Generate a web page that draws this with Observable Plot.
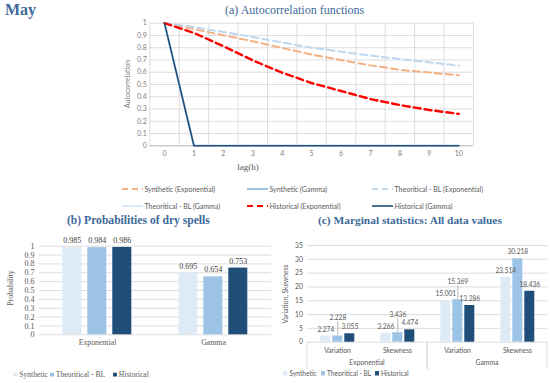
<!DOCTYPE html>
<html>
<head>
<meta charset="utf-8">
<script src="https://cdn.jsdelivr.net/npm/d3@7"></script>
<script src="https://cdn.jsdelivr.net/npm/@observablehq/plot@0.6"></script>
<style>
  html, body { margin: 0; padding: 0; background: #fff; }
  #root { position: relative; width: 550px; height: 383px; overflow: hidden; background: #fff; }
  .abs { position: absolute; white-space: nowrap; }
  .serif { font-family: "Liberation Serif", "DejaVu Serif", serif; }
  .sans { font-family: Lato, "Liberation Sans", sans-serif; }
  .title { color: #3d6a9a; }
  .leg { display: flex; align-items: center; color: #595959; }
  .leg svg { display: block; }
</style>
</head>
<body>
<div id="root"></div>
<script>
// ---------- DATA ----------
// (a) Autocorrelation functions
const lags = [0, 1, 2, 3, 4, 5, 6, 7, 8, 9, 10];
const synthExp   = [1, 0.952, 0.902, 0.852, 0.798, 0.744, 0.700, 0.656, 0.620, 0.597, 0.575];
const synthGamma = [1, 0, 0, 0, 0, 0, 0, 0, 0, 0, 0];
const theoExp    = [1, 0.968, 0.928, 0.888, 0.843, 0.800, 0.768, 0.736, 0.708, 0.681, 0.654];
const theoGamma  = [1, 0, 0, 0, 0, 0, 0, 0, 0, 0, 0];
const histExp    = [1, 0.921, 0.812, 0.697, 0.596, 0.512, 0.447, 0.381, 0.332, 0.292, 0.260];
const histGamma  = [1, 0, 0, 0, 0, 0, 0, 0, 0, 0, 0];
const lineNames = ["Synthetic (Exponential)", "Synthetic (Gamma)", "Theoritical - BL (Exponential)",
                   "Theoritical - BL (Gamma)", "Historical (Exponential)", "Historical (Gamma)"];
const lineValues = [synthExp, synthGamma, theoExp, theoGamma, histExp, histGamma];
const yTicksA = [0, 0.1, 0.2, 0.3, 0.4, 0.5, 0.6, 0.7, 0.8, 0.9, 1];

// (b) Probabilities of dry spells
const distributions = ["Exponential", "Gamma"];
const barSeries = ["Synthetic", "Theoritical - BL", "Historical"];
const probSynthetic = [0.985, 0.695];
const probTheoretical = [0.984, 0.654];
const probHistorical = [0.986, 0.753];
const yTicksB = [0, 0.1, 0.2, 0.3, 0.4, 0.5, 0.6, 0.7, 0.8, 0.9, 1];

// (c) Marginal statistics
const statNames = ["Variation", "Skewness"];
const statSynthetic   = [2.274, 3.266, 15.001, 23.514];   // Exp-Var, Exp-Skew, Gam-Var, Gam-Skew
const statTheoretical = [2.228, 3.436, 15.369, 30.218];
const statHistorical  = [3.055, 4.474, 13.286, 18.436];
const leaderLabelled  = ["Exponential|Variation|Theoritical - BL", "Exponential|Skewness|Theoritical - BL", "Gamma|Variation|Theoritical - BL"];
const yTicksC = [0, 5, 10, 15, 20, 25, 30, 35];

// ---------- STYLES ----------
const SANS = 'Lato, "Liberation Sans", sans-serif';
const SERIF = '"Liberation Serif", serif';
const lineColors = ["#f4b183", "#9dc3e6", "#bdd7ee", "#deebf7", "#ff0000", "#1f4e79"];
const lineDash   = ["7,4", null, "7,4", null, "7,4", null];
const lineWidth  = [2, 2, 2, 2, 2.4, 1.6];
const barColors  = ["#deebf7", "#9dc3e6", "#1f4e79"];
const grid = "#d9d9d9";

const root = document.getElementById("root");
function place(el, left, top) { el.style.position = "absolute"; el.style.left = left + "px"; el.style.top = top + "px"; root.appendChild(el); return el; }
function div(html, cls, left, top, style = "") {
  const d = document.createElement("div");
  d.className = "abs " + cls; d.innerHTML = html; d.style.cssText += style;
  return place(d, left, top);
}
const fmt1 = d => String(+(+d).toFixed(1));

// ---------- (a) ----------
const lineData = [];
lineNames.forEach((name, k) => lags.forEach((lag, i) => lineData.push({series: name, k, lag, value: lineValues[k][i]})));
const boundaries = lags.map(l => l - 0.5).concat([lags[lags.length - 1] + 0.5]);

const plotA = Plot.plot({
  width: 360, height: 160,
  marginLeft: 29.3, marginRight: 7, marginTop: 7.7, marginBottom: 29.7,
  x: {domain: [-0.5, 10.5], ticks: lags, tickSize: 0, tickPadding: 5, tickFormat: d => d, label: null},
  y: {domain: [0, 1], ticks: yTicksA, tickSize: 0, tickPadding: 3, tickFormat: fmt1, label: null},
  style: {fontFamily: SANS, fontSize: "7px", color: "#808080", background: "transparent"},
  marks: [
    Plot.ruleY(yTicksA, {stroke: grid, strokeWidth: 0.9}),
    Plot.ruleX(boundaries, {stroke: grid, strokeWidth: 0.9}),
    Plot.ruleY([0], {stroke: "#bfbfbf", strokeWidth: 1}),
    ...lineNames.map((name, k) => Plot.line(lineData.filter(d => d.k === k), {
      x: "lag", y: "value", stroke: lineColors[k], strokeWidth: lineWidth[k],
      strokeDasharray: lineDash[k] || undefined, strokeLinejoin: "round"
    }))
  ]
});
place(plotA, 120, 15);

div("May", "serif title", 5, 1, "font-size:16px;font-weight:bold;");
div("(a) Autocorrelation functions", "serif title", 225, 3, "font-size:12px;");
div("Autocorrelation", "sans", 127, 84, "font-size:7px;color:#808080;transform:translate(-50%,-50%) rotate(-90deg);");
div("lag(h)", "serif", 248, 167, "font-size:9px;color:#595959;transform:translate(-50%,-50%);");

// legend (a)
const legPosA = [[122, 188.5], [247, 188.5], [372, 188.5], [122, 206], [247, 206], [372, 206]];
lineNames.forEach((name, k) => {
  const dash = lineDash[k] ? `stroke-dasharray="6,4"` : "";
  const html = `<svg width="21" height="4"><line x1="0" y1="2" x2="21" y2="2" stroke="${lineColors[k]}" stroke-width="${Math.min(lineWidth[k], 2)}" ${dash}/></svg><span style="margin-left:1.5px">${name}</span>`;
  div(html, "sans leg", legPosA[k][0], legPosA[k][1], "font-size:7px;transform:translateY(-50%);");
});

// ---------- (b) ----------
const rowsB = [];
const probs = [probSynthetic, probTheoretical, probHistorical];
distributions.forEach((dist, i) => barSeries.forEach((s, j) => rowsB.push({dist, series: s, value: probs[j][i]})));

const plotB = Plot.plot({
  width: 275, height: 125,
  marginLeft: 38.7, marginRight: 4.2, marginTop: 15.7, marginBottom: 20.7,
  fx: {domain: distributions, padding: 0, label: null},
  x: {domain: barSeries, axis: null, paddingInner: 0.222, paddingOuter: 0.868},
  y: {domain: [0, 1], ticks: yTicksB, tickSize: 0, tickPadding: 5, tickFormat: fmt1, label: null},
  color: {domain: barSeries, range: barColors},
  style: {fontFamily: SERIF, fontSize: "8px", color: "#595959", background: "transparent"},
  marks: [
    Plot.ruleY(yTicksB, {stroke: grid, strokeWidth: 0.9}),
    Plot.axisFx({anchor: "bottom", tickSize: 0, tickPadding: 5, label: null, fontSize: "7.8px", fontFamily: SERIF}),
    Plot.barY(rowsB, {fx: "dist", x: "series", y: "value", fill: "series"}),
    Plot.text(rowsB, {fx: "dist", x: "series", y: "value", text: d => d.value.toFixed(3), dy: -7, fill: "#404040", fontSize: "8px", fontFamily: SERIF})
  ]
});
place(plotB, 0, 230);

div("(b) Probabilities of dry spells", "serif title", 67, 214, "font-size:11.6px;font-weight:bold;");
div("Probability", "serif", 10, 288, "font-size:8px;color:#595959;transform:translate(-50%,-50%) rotate(-90deg);");
// legend (b)
const legPosB = [[13, 374.3], [49.5, 374.3], [112.5, 374.3]];
barSeries.forEach((s, j) => {
  const html = `<svg width="4.5" height="4.5"><rect width="4.5" height="4.5" fill="${barColors[j]}"/></svg><span style="margin-left:1.8px">${s}</span>`;
  div(html, "serif leg", legPosB[j][0], legPosB[j][1], "font-size:7.6px;transform:translateY(-50%);");
});

// ---------- (c) ----------
const statKeys = [];
distributions.forEach(dist => statNames.forEach(st => statKeys.push(dist + "|" + st)));
const statVals = [statSynthetic, statTheoretical, statHistorical];
const rowsC = [];
statKeys.forEach((key, i) => barSeries.forEach((s, j) => rowsC.push({key, series: s, value: statVals[j][i], leader: leaderLabelled.includes(key + "|" + s)})));

const plotC = Plot.plot({
  width: 275, height: 140,
  marginLeft: 31.7, marginRight: 3.3, marginTop: 10, marginBottom: 33.3,
  fx: {domain: statKeys, padding: 0, label: null},
  x: {domain: barSeries, axis: null, paddingInner: 0.16, paddingOuter: 0.9},
  y: {domain: [0, 35], ticks: yTicksC, tickSize: 0, tickPadding: 4.5, label: null},
  color: {domain: barSeries, range: barColors},
  style: {fontFamily: SANS, fontSize: "6.8px", color: "#595959", background: "transparent"},
  marks: [
    Plot.ruleY(yTicksC, {stroke: grid, strokeWidth: 0.9}),
    Plot.axisFx({anchor: "bottom", tickSize: 0, tickPadding: 6, label: null, tickFormat: d => d.split("|")[1]}),
    Plot.barY(rowsC, {fx: "key", x: "series", y: "value", fill: "series"}),
    Plot.text(rowsC.filter(d => !d.leader), {fx: "key", x: "series", y: "value", text: d => d.value.toFixed(3), dy: -6.5, fill: "#595959", fontSize: "6.6px"}),
    Plot.text(rowsC.filter(d => d.leader), {fx: "key", x: "series", y: "value", text: d => d.value.toFixed(3), dy: -18, fill: "#595959", fontSize: "6.6px"}),
    Plot.ruleX(rowsC.filter(d => d.leader), {fx: "key", x: "series", y1: "value", y2: "value", insetTop: -14, insetBottom: 0.5, stroke: "#a6a6a6", strokeWidth: 0.8})
  ]
});
place(plotC, 275, 235);

// multi-level category axis decorations, positioned via the fx scale
(function () {
  const fx = plotC.scale("fx");
  const y = plotC.scale("y");
  const svg = d3.select(plotC);
  const base = y.apply(0);
  const step = fx.step;
  const g = svg.append("g");
  distributions.forEach((dist, i) => {
    const first = fx.apply(dist + "|" + statNames[0]);
    const edges = [first, first + step * statNames.length];
    edges.forEach(xp => g.append("line").attr("x1", xp).attr("x2", xp).attr("y1", base).attr("y2", base + 27.5)
      .attr("stroke", grid).attr("stroke-width", 0.9));
    g.append("text").attr("x", first + step * statNames.length / 2).attr("y", base + 23.6)
      .attr("text-anchor", "middle").attr("font-family", SANS).attr("font-size", "6.8px")
      .attr("fill", "#595959").text(dist);
  });
})();

div("(c) Marginal statistics: All data values", "serif title", 318, 214, "font-size:11.4px;font-weight:bold;");
div("Variation, Skewness", "sans", 285, 294, "font-size:6.8px;color:#595959;transform:translate(-50%,-50%) rotate(-90deg);");
const legPosC = [[283, 373.3], [320.5, 373.3], [374.5, 373.3]];
barSeries.forEach((s, j) => {
  const html = `<svg width="4.5" height="4.5"><rect width="4.5" height="4.5" fill="${barColors[j]}"/></svg><span style="margin-left:2px">${s}</span>`;
  div(html, "sans leg", legPosC[j][0], legPosC[j][1], "font-size:6.6px;transform:translateY(-50%);");
});
</script>
</body>
</html>
